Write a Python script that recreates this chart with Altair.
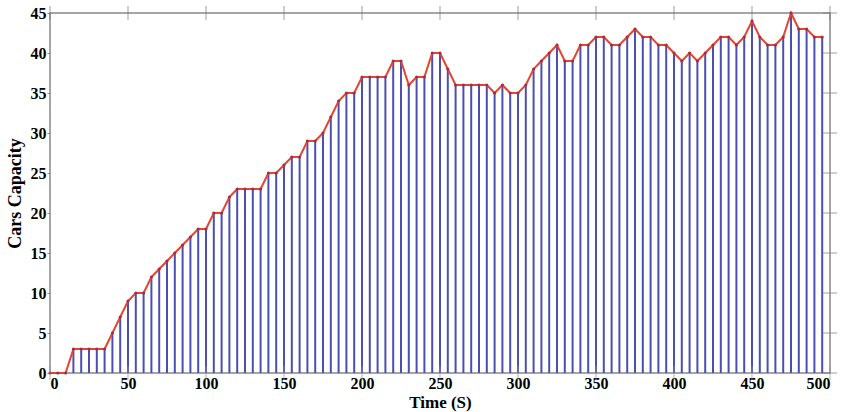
import altair as alt
import pandas as pd

times = list(range(0, 500, 5))
capacity = [0, 0, 0, 3, 3, 3, 3, 3, 5, 7,
            9, 10, 10, 12, 13, 14, 15, 16, 17, 18,
            18, 20, 20, 22, 23, 23, 23, 23, 25, 25,
            26, 27, 27, 29, 29, 30, 32, 34, 35, 35,
            37, 37, 37, 37, 39, 39, 36, 37, 37, 40,
            40, 38, 36, 36, 36, 36, 36, 35, 36, 35,
            35, 36, 38, 39, 40, 41, 39, 39, 41, 41,
            42, 42, 41, 41, 42, 43, 42, 42, 41, 41,
            40, 39, 40, 39, 40, 41, 42, 42, 41, 42,
            44, 42, 41, 41, 42, 45, 43, 43, 42, 42]
x_ticks = list(range(0, 501, 50))
y_ticks = list(range(0, 46, 5))

df = pd.DataFrame({"t": times, "v": capacity})
xt = pd.DataFrame({"t": x_ticks})
yt = pd.DataFrame({"v": y_ticks})

W, H = 780, 360
FONT = "Liberation Serif"

xscale = alt.Scale(domain=[0, 500], nice=False, zero=False)
yscale = alt.Scale(domain=[0, 45], nice=False)

xaxis = alt.Axis(values=x_ticks, title="Time (S)", domain=False, ticks=False,
                 grid=False, labelPadding=2, titlePadding=3, labelOverlap=False,
                 labelFont=FONT, labelFontSize=16, labelFontWeight="bold", labelColor="black",
                 titleFont=FONT, titleFontSize=17, titleFontWeight="bold", titleColor="black")
yaxis = alt.Axis(values=y_ticks, title="Cars Capacity", domain=False, ticks=True,
                 tickSize=3, tickColor="#888888", labelOverlap=False,
                 grid=False, labelPadding=1, titlePadding=6,
                 labelFont=FONT, labelFontSize=16, labelFontWeight="bold", labelColor="black",
                 titleFont=FONT, titleFontSize=18, titleFontWeight="bold", titleColor="black")

X = alt.X("t:Q", scale=xscale, axis=xaxis)
Y = alt.Y("v:Q", scale=yscale, axis=yaxis)

base = alt.Chart(df)

stems = base.mark_rule(color="#4a4fb0", strokeWidth=2).encode(
    x=X, y=Y, y2=alt.datum(0),
)

line = base.mark_line(color="#e8432c", strokeWidth=2).encode(x=X, y=Y)

pts = base.mark_point(filled=True, color="#a0304a", size=10, opacity=1).encode(x=X, y=Y)

top_ticks = alt.Chart(xt).mark_tick(color="#777777", size=14, thickness=1, orient="vertical").encode(
    x=X, y=alt.value(0))
bot_ticks = alt.Chart(xt).mark_tick(color="#999999", size=14, thickness=1, orient="vertical").encode(
    x=X, y=alt.value(H))
right_ticks = alt.Chart(yt).mark_tick(color="#777777", size=14, thickness=1, orient="horizontal").encode(
    y=Y, x=alt.value(W))

chart = alt.layer(stems, line, pts, top_ticks, bot_ticks, right_ticks).properties(
    width=W, height=H,
    autosize=alt.AutoSizeParams(type="none"),
    padding={"left": 50, "top": 13, "right": 13, "bottom": 39},
    background="white",
).configure_view(stroke="#888888", strokeWidth=1.5)

chart.save("out.html", embed_options={"renderer": "svg", "actions": False})
